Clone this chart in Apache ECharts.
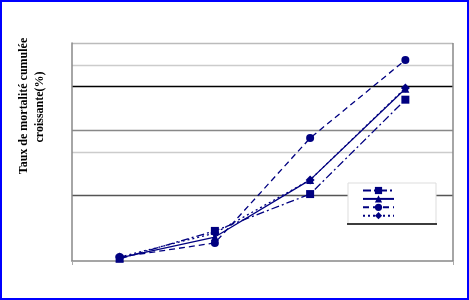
<!DOCTYPE html>
<html><head><meta charset="utf-8">
<script src="https://cdn.jsdelivr.net/npm/echarts@6/dist/echarts.min.js"></script>
<style>html,body{margin:0;padding:0;background:#fff}#c{width:469px;height:300px}</style>
</head><body><div id="c"></div>
<script>
var categories = ['1', '2', '3', '4'];
var seriesNames = ['s1', 's2', 's3', 's4'];
var valuesSquare = [0.1, 1.38, 3.07, 7.4];
var valuesTriangle = [0.14, 1.1, 3.72, 7.9];
var valuesCircle = [0.18, 0.83, 5.64, 9.22];
var valuesDiamond = [0.18, 1.28, 3.72, 7.94];
var yTitleLines = ['Taux de mortalité cumulée', 'croissante(%)'];

var navy = '#000080';
var T = 'rgba(0,0,0,0)';
var chart = echarts.init(document.getElementById('c'), null, {renderer: 'canvas'});
function mk(name, data, symbol, size, type) {
  return {
    name: name, type: 'line', data: data, symbol: symbol, symbolSize: size,
    showAllSymbol: true,
    itemStyle: {color: navy},
    lineStyle: {color: navy, width: 1.3, type: type},
    emphasis: {disabled: true}, animation: false
  };
}
chart.setOption({
  animation: false,
  grid: {left: 72, right: 16, top: 43, bottom: 39},
  xAxis: {
    type: 'category', data: categories, boundaryGap: true,
    axisLine: {lineStyle: {color: '#888', width: 1.5}},
    axisTick: {show: true, length: 4, interval: function (i) { return i === 3; }, lineStyle: {color: '#aaa'}},
    axisLabel: {show: false}
  },
  yAxis: {
    type: 'value', min: 0, max: 10, interval: 1,
    axisLine: {show: true, lineStyle: {color: '#888', width: 1.5}},
    axisTick: {show: false},
    axisLabel: {show: false},
    splitLine: {show: true, lineStyle: {width: 1.3, color: [T, T, T, '#555', T, '#ccc', '#888', T, '#000', '#ccc', '#bbb']}}
  },
  legend: {
    orient: 'vertical', left: 362, top: 186, padding: 0, itemWidth: 31, itemHeight: 9, itemGap: 0.3,
    textStyle: {fontSize: 8},
    formatter: function () { return ''; }, z: 5,
    data: seriesNames
  },
  graphic: [
    {type: 'line', z: 3, shape: {x1: 453, y1: 43, x2: 453, y2: 261}, style: {stroke: '#888', lineWidth: 1.5}},
    {type: 'rect', z: 3, shape: {x: 348, y: 183, width: 88, height: 41}, style: {fill: '#fff', stroke: '#ddd', lineWidth: 1}},
    {type: 'line', z: 3, shape: {x1: 347, y1: 224, x2: 437, y2: 224}, style: {stroke: '#000', lineWidth: 1.5}},
    {type: 'text', z: 3, x: 24, y: 106, rotation: Math.PI / 2,
     style: {text: yTitleLines[0], font: 'bold 12px "Liberation Serif"', fill: '#000', textAlign: 'center', textVerticalAlign: 'middle'}},
    {type: 'text', z: 3, x: 40, y: 107, rotation: Math.PI / 2,
     style: {text: yTitleLines[1], font: 'bold 12px "Liberation Serif"', fill: '#000', textAlign: 'center', textVerticalAlign: 'middle'}},
    {type: 'rect', z: 10, shape: {x: 1, y: 1, width: 467, height: 298}, style: {fill: T, stroke: '#0000ff', lineWidth: 2}}
  ],
  series: [
    mk(seriesNames[0], valuesSquare, 'rect', 8, [8, 3, 2, 3]),
    mk(seriesNames[1], valuesTriangle, 'triangle', 8, 'solid'),
    mk(seriesNames[2], valuesCircle, 'circle', 8, [6, 4]),
    mk(seriesNames[3], valuesDiamond, 'diamond', 9, [2, 3])
  ]
});
</script></body></html>
